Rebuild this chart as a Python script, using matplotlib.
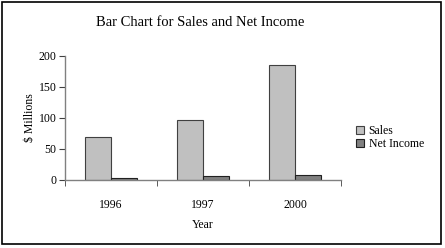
import matplotlib
matplotlib.use("Agg")
import matplotlib.pyplot as plt
import numpy as np
from matplotlib.patches import Rectangle

years = ["1996", "1997", "2000"]
sales = [69, 96, 185]
net_income = [2, 5.5, 6.5]
yticks = [0, 50, 100, 150, 200]

plt.rcParams['font.family'] = ['Liberation Serif', 'DejaVu Serif']

fig = plt.figure(figsize=(4.45, 2.48), dpi=100)
fig.patch.set_facecolor('white')
fig.patches.append(Rectangle((1.5/445, 4/248), 439.5/445, 242.5/248, transform=fig.transFigure,
                             fill=False, edgecolor='black', linewidth=1.2, zorder=0))

ax = fig.add_axes([65/445, 1 - 179.5/248, 276/445, 123.5/248])
x = np.arange(len(years))
w = 0.2826
ax.bar(x - w/2, sales, width=w, color='#C0C0C0', edgecolor='#404040', linewidth=0.8, label='Sales')
ax.bar(x + w/2, net_income, width=w, color='#808080', edgecolor='#202020', linewidth=0.8, label='Net Income')

ax.set_xlim(-0.5, len(years) - 0.5)
ax.set_ylim(0, 200)
ax.set_yticks(yticks)
ax.set_yticklabels([str(v) for v in yticks], fontsize=8.5)
ax.set_xticks(x)
ax.set_xticklabels(years, fontsize=8.5)
ax.set_xticks(np.arange(-0.5, len(years)), minor=True)
ax.tick_params(axis='x', which='major', length=0, pad=14)
ax.tick_params(axis='x', which='minor', length=4, color='#404040', direction='out')
ax.tick_params(axis='y', length=4, color='#404040', direction='out', pad=2)
for s in ['top', 'right']:
    ax.spines[s].set_visible(False)
for s in ['left', 'bottom']:
    ax.spines[s].set_color('#808080')
    ax.spines[s].set_linewidth(1.0)

ax.set_xlabel('Year', fontsize=8.5, labelpad=6)
ax.set_ylabel('$ Millions', fontsize=8.5, labelpad=2)
fig.text(200/445, 1 - 22/248, 'Bar Chart for Sales and Net Income', ha='center', va='center', fontsize=10.5)

leg = ax.legend(loc='upper left', bbox_to_anchor=(1.055, 0.44), frameon=False, fontsize=8.5,
                handlelength=0.7, handleheight=0.7, handletextpad=0.35, labelspacing=0.1, borderpad=0,
                borderaxespad=0)

fig.savefig('out.png', dpi=100, facecolor='white')
